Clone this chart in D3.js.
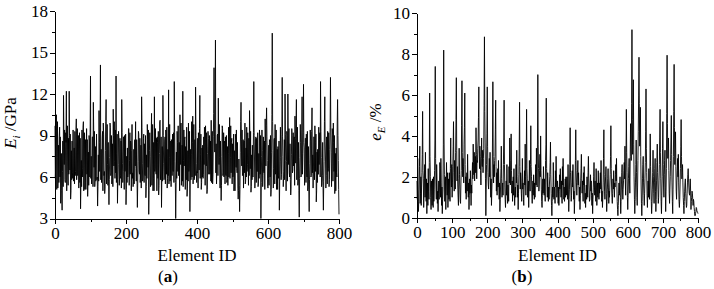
<!DOCTYPE html>
<html lang="en">
  <head>
    <meta charset="utf-8">
    <title>Element modulus and error</title>
    <script src="https://cdn.jsdelivr.net/npm/d3@7"></script>
    <style>
      body { margin: 0; background: #fff; }
      .axis path, .axis line { stroke: #000; shape-rendering: crispEdges; }
    </style>
  </head>
  <body>
    <div id="svg-area"></div>
    <script>
      const svg_width = 714;
      const svg_height = 289;
      const font = '"Liberation Serif", "Times New Roman", "DejaVu Serif", serif';

      // one value per element, element ID 0 ... 800
      const elementStep = 1;

      // (a) element modulus E_i in GPa
      const modulusE = [
        9.7, 5.9, 6.8, 9.9, 10.5, 5.1, 7.4, 10.0, 5.2, 6.0, 8.3, 5.6, 8.9, 9.6, 6.0, 8.9, 4.1, 5.2, 7.7, 5.0,
        3.6, 6.4, 8.6, 5.3, 11.9, 9.1, 6.9, 9.4, 5.8, 5.6, 9.2, 8.5, 12.2, 5.0, 7.1, 9.7, 6.3, 5.4, 8.8, 6.2,
        12.2, 9.0, 6.5, 9.1, 4.4, 5.0, 7.9, 5.8, 8.6, 6.3, 5.9, 9.4, 5.7, 5.9, 8.1, 5.5, 9.3, 6.1, 6.4, 9.3,
        10.2, 5.8, 7.0, 9.5, 6.1, 8.6, 9.0, 5.2, 8.0, 9.2, 5.6, 8.8, 3.7, 5.4, 7.2, 5.3, 9.4, 6.0, 6.6, 9.6,
        10.0, 5.0, 7.3, 9.2, 5.1, 5.6, 8.7, 5.1, 8.4, 9.5, 6.2, 8.7, 4.6, 5.9, 7.8, 5.4, 9.0, 8.6, 6.0, 9.2,
        13.3, 5.9, 7.5, 5.5, 6.2, 8.9, 8.9, 5.3, 11.4, 9.4, 6.7, 9.3, 5.3, 5.8, 8.2, 5.7, 7.8, 9.1, 5.8, 6.0,
        3.9, 5.3, 7.6, 5.7, 10.8, 8.5, 6.4, 9.6, 14.1, 5.8, 8.0, 5.6, 6.5, 8.8, 9.3, 5.0, 9.9, 9.1, 6.1, 6.4,
        4.8, 5.2, 7.9, 10.0, 11.6, 5.5, 7.2, 9.8, 6.9, 5.4, 8.5, 5.7, 4.0, 5.8, 7.4, 9.9, 9.6, 6.1, 6.3, 9.0,
        5.5, 6.2, 8.4, 5.3, 10.9, 9.0, 6.8, 10.0, 7.1, 5.9, 9.4, 6.3, 13.3, 5.6, 7.7, 9.1, 4.1, 5.8, 6.9, 9.3,
        8.8, 5.4, 6.0, 8.8, 5.9, 6.1, 8.6, 5.2, 11.6, 9.2, 7.0, 5.6, 6.4, 8.9, 8.9, 5.1, 9.0, 6.4, 6.5, 9.1,
        4.0, 5.1, 7.5, 5.6, 8.1, 6.0, 6.3, 9.5, 9.5, 5.4, 7.2, 9.2, 6.2, 8.6, 8.4, 5.0, 7.9, 9.8, 5.9, 6.3,
        5.3, 5.7, 8.0, 5.5, 8.6, 8.7, 6.8, 10.0, 6.6, 5.7, 8.7, 6.0, 3.8, 5.5, 7.1, 9.3, 9.1, 6.4, 6.2, 8.8,
        5.6, 6.0, 8.3, 5.2, 11.8, 9.6, 7.0, 5.7, 6.0, 8.8, 9.1, 5.6, 8.4, 6.2, 6.1, 9.0, 4.5, 5.3, 7.6, 5.9,
        9.8, 8.7, 6.7, 9.4, 3.3, 5.0, 7.9, 9.2, 7.5, 5.3, 5.8, 9.1, 10.6, 5.4, 7.3, 9.8, 5.0, 5.9, 8.5, 5.0,
        11.8, 6.4, 6.6, 9.5, 6.3, 6.2, 8.8, 5.0, 8.9, 8.5, 5.9, 9.3, 4.7, 5.4, 7.7, 10.0, 10.1, 5.8, 6.5, 8.9,
        3.8, 5.9, 8.2, 5.7, 11.9, 9.0, 7.0, 5.8, 6.0, 8.6, 8.9, 5.5, 9.4, 8.8, 6.2, 9.6, 5.2, 5.9, 8.0, 6.1,
        12.3, 5.5, 7.4, 9.8, 5.7, 5.9, 8.6, 5.3, 8.7, 8.6, 6.1, 9.1, 6.5, 6.4, 9.2, 5.6, 12.9, 9.2, 7.1, 5.6,
        3.0, 5.2, 7.8, 5.9, 9.3, 8.5, 6.4, 9.7, 6.1, 6.2, 8.5, 5.0, 10.5, 8.7, 6.9, 9.9, 5.4, 6.0, 8.3, 5.7,
        12.2, 5.3, 7.2, 9.4, 6.8, 8.7, 8.9, 5.1, 8.2, 6.0, 5.8, 9.6, 4.6, 5.2, 7.9, 5.7, 9.9, 6.4, 6.6, 9.3,
        3.5, 5.9, 8.0, 5.8, 7.6, 10.0, 6.0, 8.5, 10.4, 5.5, 7.3, 9.8, 5.8, 5.9, 8.7, 6.1, 12.5, 9.0, 7.0, 5.6,
        6.4, 6.3, 8.8, 5.2, 9.2, 8.8, 6.5, 9.5, 11.9, 5.9, 7.6, 9.1, 5.1, 5.6, 8.1, 6.0, 8.3, 5.9, 6.2, 8.9,
        6.9, 9.6, 9.0, 5.4, 9.7, 8.5, 6.8, 9.2, 4.8, 5.1, 7.7, 9.3, 8.8, 6.2, 6.4, 9.0, 6.2, 6.4, 8.6, 5.7,
        10.1, 5.6, 7.0, 9.3, 5.5, 6.2, 8.9, 10.6, 13.9, 9.4, 7.8, 11.2, 15.9, 6.3, 8.4, 5.5, 6.7, 9.0, 9.1, 6.1,
        11.7, 8.9, 6.9, 9.8, 7.4, 5.2, 8.6, 6.0, 4.3, 5.4, 7.5, 9.7, 9.5, 6.1, 6.3, 9.2, 6.0, 8.6, 8.4, 5.5,
        8.9, 6.2, 6.1, 9.0, 5.6, 5.8, 8.2, 5.4, 7.7, 9.6, 6.0, 8.6, 10.3, 5.9, 7.4, 9.7, 6.3, 8.5, 8.8, 5.5,
        8.4, 6.0, 6.2, 9.1, 5.0, 5.6, 7.9, 5.0, 9.1, 8.7, 6.7, 9.4, 6.6, 6.3, 8.5, 5.2, 4.4, 5.0, 7.3, 5.4,
        3.5, 5.1, 7.8, 10.0, 11.4, 8.7, 6.8, 9.4, 6.1, 6.3, 8.7, 5.2, 8.5, 8.6, 6.3, 9.9, 5.5, 5.7, 8.1, 6.0,
        9.6, 6.4, 6.9, 9.2, 7.2, 5.4, 8.8, 6.1, 10.8, 8.9, 6.6, 9.3, 4.9, 5.3, 7.6, 5.8, 8.3, 6.0, 6.0, 9.2,
        12.9, 9.0, 7.3, 5.2, 6.0, 8.8, 8.9, 5.6, 8.8, 6.4, 6.4, 9.2, 5.3, 5.5, 7.7, 5.9, 9.4, 8.6, 6.2, 9.0,
        3.0, 5.6, 7.5, 9.4, 7.9, 5.3, 6.1, 8.9, 6.4, 6.3, 8.6, 5.1, 10.2, 8.5, 6.8, 9.7, 11.0, 8.9, 7.2, 5.3,
        5.2, 5.9, 8.3, 5.4, 8.7, 8.5, 6.0, 9.0, 4.6, 5.1, 7.8, 10.5, 16.4, 10.0, 7.9, 5.2, 6.6, 8.7, 8.8, 5.5,
        9.8, 6.2, 6.3, 9.4, 5.1, 5.7, 8.0, 5.1, 8.2, 6.1, 5.9, 8.6, 3.6, 5.7, 7.1, 9.6, 7.4, 5.8, 6.2, 9.1,
        13.2, 8.9, 7.5, 5.3, 5.9, 6.4, 8.7, 5.8, 12.0, 9.1, 7.2, 5.0, 7.1, 9.3, 9.0, 5.7, 12.0, 8.6, 6.9, 9.5,
        6.3, 6.0, 8.4, 5.8, 4.7, 5.2, 7.6, 9.5, 9.0, 6.3, 6.5, 9.2, 6.8, 8.7, 8.9, 5.4, 10.4, 8.8, 7.0, 9.8,
        11.6, 5.8, 7.1, 9.6, 5.4, 5.7, 8.5, 5.0, 3.1, 5.9, 7.4, 9.8, 8.5, 6.0, 6.2, 9.4, 11.8, 6.2, 7.7, 9.2,
        12.7, 8.5, 8.1, 5.4, 6.2, 8.8, 8.8, 5.6, 9.1, 6.3, 6.0, 9.3, 5.0, 5.5, 8.2, 5.1, 3.5, 5.8, 7.0, 9.4,
        8.6, 6.0, 6.1, 9.3, 11.0, 6.3, 7.6, 5.2, 6.5, 8.9, 8.9, 5.8, 9.7, 8.5, 6.4, 9.1, 4.2, 5.0, 7.8, 5.6,
        8.0, 6.2, 6.2, 9.6, 6.9, 8.7, 9.2, 6.0, 12.9, 9.3, 7.4, 5.3, 5.6, 6.1, 8.5, 5.4, 3.6, 5.7, 7.1, 10.0,
        11.8, 8.6, 7.3, 5.2, 6.1, 8.9, 8.7, 5.5, 9.3, 6.4, 6.6, 9.2, 5.3, 5.8, 8.0, 9.6, 13.2, 9.4, 7.8, 5.3,
        7.0, 9.5, 9.1, 5.7, 9.9, 8.5, 6.4, 9.0, 4.8, 5.2, 7.7, 5.0, 8.1, 6.3, 6.0, 9.9, 11.6, 9.0, 7.2, 5.1,
        3.3
      ];

      // (b) relative error e_E in %
      const errorE = [
        1.8, 0.9, 2.9, 1.4, 0.3, 0.8, 1.6, 2.5, 3.5, 0.7, 1.2, 2.0, 0.6, 1.5, 2.2, 3.1, 5.2, 2.3, 1.9, 0.5,
        1.1, 1.9, 2.6, 1.0, 3.2, 1.6, 0.8, 1.9, 0.2, 1.1, 1.7, 0.6, 2.4, 1.3, 0.9, 2.7, 6.1, 3.0, 2.0, 1.0,
        0.4, 1.8, 1.3, 0.6, 1.9, 1.1, 0.5, 2.0, 0.8, 1.4, 2.3, 3.8, 7.4, 2.9, 1.6, 0.9, 2.6, 1.8, 0.7, 1.3,
        0.3, 1.2, 1.8, 0.9, 1.5, 2.7, 2.4, 1.0, 2.9, 1.7, 0.6, 1.5, 0.2, 0.9, 1.4, 3.6, 8.2, 3.9, 2.1, 0.8,
        1.3, 2.0, 0.4, 1.5, 2.7, 1.6, 1.1, 2.2, 0.5, 1.2, 1.9, 0.9, 2.2, 1.5, 0.8, 2.4, 3.9, 2.0, 1.5, 2.6,
        1.0, 1.7, 2.5, 3.5, 4.7, 2.2, 1.3, 2.8, 2.1, 1.4, 3.2, 4.8, 6.85, 3.3, 1.8, 2.5, 1.6, 1.0, 0.6, 1.9,
        3.4, 2.1, 1.4, 0.8, 0.7, 1.6, 2.3, 4.5, 6.7, 3.2, 2.0, 2.9, 2.5, 1.7, 3.6, 4.4, 6.1, 2.6, 1.2, 2.0,
        0.9, 1.5, 2.2, 1.3, 3.1, 1.9, 1.0, 1.7, 0.4, 1.1, 1.9, 1.2, 2.3, 1.4, 0.6, 1.6, 1.2, 2.1, 2.7, 1.9,
        3.6, 2.7, 2.1, 3.2, 1.8, 2.4, 3.0, 2.2, 4.4, 3.1, 1.9, 2.8, 2.7, 3.4, 3.8, 4.9, 6.4, 3.3, 2.4, 3.5,
        3.0, 2.3, 1.6, 2.9, 3.9, 2.6, 2.5, 3.3, 2.2, 2.9, 3.4, 5.5, 8.85, 5.2, 3.7, 1.9, 0.1, 1.4, 2.6, 4.1,
        6.4, 3.5, 2.2, 1.6, 1.4, 2.1, 2.9, 2.0, 3.2, 1.8, 1.0, 1.9, 0.6, 1.3, 2.0, 3.9, 6.65, 3.0, 1.7, 2.6,
        2.0, 2.8, 3.0, 4.3, 5.75, 2.5, 1.3, 2.2, 1.1, 1.8, 2.4, 1.5, 2.8, 1.6, 0.9, 1.7, 0.3, 0.9, 1.6, 2.4,
        3.5, 1.9, 1.0, 1.6, 1.7, 1.1, 2.6, 3.9, 5.75, 2.6, 1.5, 0.9, 0.5, 1.2, 1.8, 1.1, 2.6, 1.4, 0.7, 1.6,
        1.3, 0.8, 2.5, 1.7, 3.9, 2.4, 1.6, 2.8, 4.1, 2.3, 1.2, 1.8, 0.8, 1.3, 2.0, 1.1, 2.4, 1.5, 0.6, 1.2,
        1.5, 1.0, 2.6, 1.7, 3.3, 2.0, 1.0, 1.6, 0.4, 1.2, 2.1, 3.4, 5.65, 2.5, 1.4, 2.2, 1.9, 1.2, 0.8, 1.7,
        2.9, 1.4, 1.7, 0.9, 0.6, 1.5, 2.3, 1.6, 3.6, 2.0, 1.1, 2.9, 5.3, 2.4, 1.9, 1.0, 1.2, 1.8, 0.5, 1.4,
        2.8, 1.7, 1.3, 2.6, 4.5, 2.5, 2.0, 1.2, 0.7, 1.4, 1.8, 1.1, 2.1, 1.5, 0.9, 1.7, 1.0, 1.8, 2.6, 1.6,
        3.4, 2.2, 1.5, 3.8, 7.0, 3.6, 2.4, 1.3, 1.6, 2.3, 3.1, 2.0, 4.0, 2.3, 1.4, 0.8, 0.5, 1.1, 1.9, 1.2,
        2.5, 1.6, 1.1, 1.9, 1.3, 0.8, 2.8, 3.6, 5.85, 2.4, 1.7, 1.0, 2.2, 1.4, 0.8, 1.5, 0.9, 1.6, 2.0, 2.7,
        3.7, 2.1, 1.2, 0.6, 0.1, 0.8, 1.5, 1.0, 2.7, 1.7, 0.9, 1.5, 1.4, 0.7, 2.3, 1.5, 3.0, 1.9, 1.0, 1.4,
        1.8, 1.2, 0.7, 1.5, 0.6, 1.3, 2.1, 1.4, 2.4, 1.7, 1.0, 1.8, 1.2, 0.7, 2.5, 1.6, 2.9, 1.7, 0.9, 1.5,
        0.8, 1.3, 1.9, 1.0, 2.0, 1.6, 1.1, 2.0, 1.5, 0.9, 2.6, 1.4, 0.3, 0.9, 1.4, 2.6, 4.4, 2.2, 1.5, 0.8,
        1.1, 1.7, 2.3, 1.5, 2.6, 1.6, 0.9, 1.3, 0.2, 0.9, 1.6, 2.8, 4.3, 2.3, 1.7, 1.1, 1.7, 2.2, 2.8, 1.6,
        2.2, 1.4, 0.8, 1.5, 0.4, 1.1, 1.8, 2.4, 3.1, 1.9, 1.2, 1.8, 1.3, 0.8, 2.2, 1.6, 2.5, 1.5, 0.7, 1.2,
        0.5, 1.2, 1.6, 0.9, 2.0, 1.5, 1.0, 2.2, 3.0, 1.9, 1.4, 0.8, 0.9, 1.5, 2.1, 1.3, 1.8, 1.1, 0.6, 1.2,
        0.2, 0.9, 1.5, 2.0, 2.7, 1.6, 1.1, 1.8, 1.4, 0.8, 2.4, 1.5, 0.6, 1.1, 1.7, 1.0, 2.3, 1.6, 0.9, 1.7,
        1.2, 1.8, 2.2, 1.4, 2.8, 1.6, 0.8, 1.3, 0.5, 1.0, 1.7, 2.9, 4.3, 2.1, 1.3, 0.9, 1.6, 2.0, 2.5, 1.2,
        0.3, 0.8, 1.4, 1.9, 2.4, 1.5, 0.7, 1.3, 1.0, 1.6, 2.1, 3.0, 4.5, 2.4, 1.5, 1.0, 0.7, 1.2, 1.9, 1.4,
        2.3, 1.6, 1.0, 1.7, 1.5, 2.1, 2.6, 1.8, 2.9, 1.5, 0.8, 0.4, 0.1, 0.6, 1.2, 1.7, 1.1, 1.5, 2.0, 1.0,
        0.2, 0.8, 1.6, 2.2, 2.6, 1.4, 0.9, 1.4, 1.8, 2.3, 2.7, 1.9, 3.5, 1.8, 1.1, 2.9, 5.3, 3.2, 2.2, 1.0,
        0.4, 1.1, 1.9, 2.5, 2.9, 1.8, 1.2, 3.0, 4.6, 3.5, 2.8, 5.6, 9.2, 4.8, 3.1, 5.0, 6.75, 3.6, 2.0, 0.9,
        0.2, 0.8, 1.7, 2.6, 3.8, 2.2, 1.0, 0.6, 1.5, 2.8, 4.2, 6.0, 7.85, 5.6, 3.5, 4.4, 5.4, 3.0, 1.6, 0.7,
        0.1, 0.8, 1.9, 2.6, 3.0, 1.7, 1.1, 0.6, 1.2, 1.9, 2.7, 4.2, 6.3, 3.4, 2.2, 1.1, 0.5, 1.2, 1.8, 1.0,
        2.4, 1.5, 0.9, 2.3, 4.1, 2.5, 1.6, 0.8, 0.2, 0.7, 1.4, 2.2, 3.3, 2.0, 1.2, 0.7, 1.7, 2.4, 2.9, 1.3,
        0.3, 0.9, 1.8, 2.7, 3.6, 2.2, 1.4, 0.7, 1.0, 1.8, 2.6, 3.9, 5.3, 3.2, 1.9, 0.8, 0.2, 1.1, 2.0, 3.4,
        4.7, 2.6, 1.5, 1.0, 2.1, 2.8, 3.3, 1.5, 0.3, 1.3, 2.4, 5.1, 7.95, 4.6, 2.9, 3.4, 3.9, 2.3, 1.2, 0.7,
        1.4, 2.0, 2.8, 3.9, 5.0, 3.1, 1.7, 0.8, 0.2, 1.4, 3.0, 5.2, 7.5, 4.4, 2.6, 3.3, 4.2, 2.5, 1.3, 0.9,
        1.8, 2.3, 2.9, 2.0, 3.1, 1.7, 0.8, 0.5, 0.9, 1.6, 2.4, 3.5, 4.8, 3.0, 1.9, 2.2, 2.6, 1.7, 1.0, 0.6,
        0.2, 0.8, 1.3, 1.7, 1.9, 1.2, 0.8, 0.5, 0.6, 1.2, 1.7, 2.1, 2.4, 1.9, 1.5, 1.2, 1.1, 1.5, 1.9, 1.3,
        0.4, 0.8, 1.0, 1.3, 1.2, 0.9, 0.6, 0.9, 0.8, 0.5, 0.3, 0.1, 0.1, 0.2, 0.3, 0.5, 0.45, 0.3, 0.3, 0.25,
        0.2
      ];

      const ticksA_y = [3, 6, 9, 12, 15, 18];
      const minorA_y = [4.5, 7.5, 10.5, 13.5, 16.5];
      const ticksA_x = [0, 200, 400, 600, 800];
      const minorA_x = [100, 300, 500, 700];

      const ticksB_y = [0, 2, 4, 6, 8, 10];
      const minorB_y = [1, 3, 5, 7, 9];
      const ticksB_x = [0, 100, 200, 300, 400, 500, 600, 700, 800];
      const minorB_x = [50, 150, 250, 350, 450, 550, 650, 750];

      const svg = d3.select('#svg-area')
        .append('svg')
        .attr('width', svg_width)
        .attr('height', svg_height)
        .attr('font-family', font);

      const draw_panel = function(p) {
        const x_scale = d3.scaleLinear().domain([0, 800]).range([p.left, p.right]);
        const y_scale = d3.scaleLinear().domain(p.yDomain).range([p.bottom, p.top]);

        //minor ticks first
        svg.append('g')
          .attr('class', 'axis')
          .attr('transform', `translate(0,${p.bottom})`)
          .call(d3.axisBottom(x_scale).tickValues(p.minorX).tickSize(3).tickFormat(''))
          .select('.domain').remove();
        svg.append('g')
          .attr('class', 'axis')
          .attr('transform', `translate(${p.left},0)`)
          .call(d3.axisLeft(y_scale).tickValues(p.minorY).tickSize(3).tickFormat(''))
          .select('.domain').remove();

        //data line
        const line = d3.line()
          .x((d, i) => x_scale(i * elementStep))
          .y((d) => y_scale(d));
        svg.append('path')
          .datum(p.values)
          .attr('fill', 'none')
          .attr('stroke', '#000')
          .attr('stroke-width', 0.9)
          .attr('d', line);

        //major axes
        svg.append('g')
          .attr('class', 'axis')
          .attr('transform', `translate(0,${p.bottom})`)
          .call(d3.axisBottom(x_scale).tickValues(p.ticksX).tickSize(5).tickSizeOuter(0).tickPadding(3))
          .attr('font-family', font)
          .attr('font-size', 17)
          .selectAll('text').attr('fill', '#000');
        svg.append('g')
          .attr('class', 'axis')
          .attr('transform', `translate(${p.left},0)`)
          .call(d3.axisLeft(y_scale).tickValues(p.ticksY).tickSize(5).tickSizeOuter(0).tickPadding(2))
          .attr('font-family', font)
          .attr('font-size', 17)
          .selectAll('text').attr('fill', '#000');

        //titles
        svg.append('text')
          .attr('x', (p.left + p.right) / 2)
          .attr('y', 261)
          .attr('text-anchor', 'middle')
          .attr('font-size', 17)
          .text('Element ID');
        const tag = svg.append('text')
          .attr('x', p.tagX)
          .attr('y', 282)
          .attr('text-anchor', 'middle')
          .attr('font-size', 17);
        tag.append('tspan').text('(');
        tag.append('tspan').attr('font-weight', 'bold').text(p.tag);
        tag.append('tspan').text(')');

        const ylab = svg.append('text')
          .attr('transform', `translate(${p.yLabelX},${p.yLabelY}) rotate(-90)`)
          .attr('text-anchor', 'middle')
          .attr('font-size', 17);
        ylab.append('tspan').attr('font-style', 'italic').text(p.ySym);
        ylab.append('tspan').attr('font-style', 'italic').attr('font-size', 11).attr('dy', 4).text(p.ySub);
        ylab.append('tspan').attr('dy', -4).text(' ' + p.yUnit);
      };

      draw_panel({
        left: 55, right: 339, top: 11, bottom: 218.5,
        yDomain: [3, 18], values: modulusE,
        ticksX: ticksA_x, minorX: minorA_x, ticksY: ticksA_y, minorY: minorA_y,
        tag: 'a', tagX: 168,
        ySym: 'E', ySub: 'i', yUnit: '/GPa', yLabelX: 16, yLabelY: 123
      });

      draw_panel({
        left: 417, right: 698, top: 13.3, bottom: 217.7,
        yDomain: [0, 10], values: errorE,
        ticksX: ticksB_x, minorX: minorB_x, ticksY: ticksB_y, minorY: minorB_y,
        tag: 'b', tagX: 522,
        ySym: 'e', ySub: 'E', yUnit: '/%', yLabelX: 381, yLabelY: 122
      });
    </script>
  </body>
</html>
